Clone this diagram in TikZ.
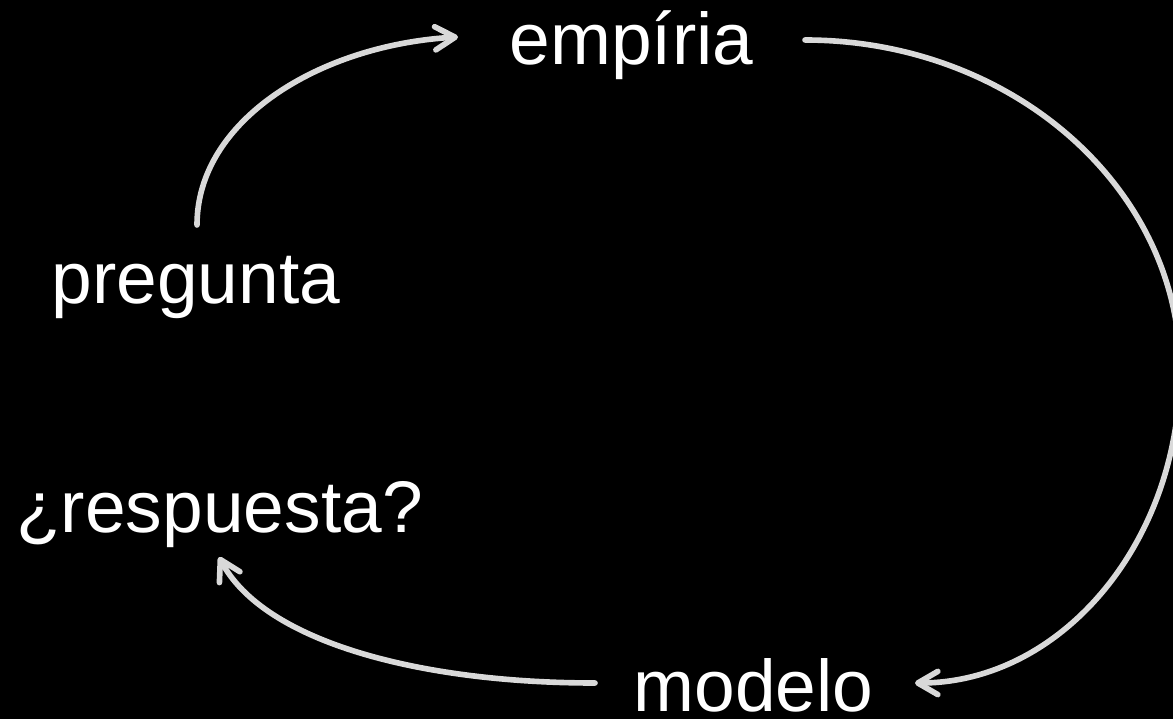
\documentclass[tikz,border=0pt]{standalone}
\usepackage{fontspec}
\setmainfont{Liberation Sans}
\usepackage{tikz}
\usetikzlibrary{arrows.meta,calc}

\definecolor{arrowgray}{RGB}{217,217,217}

\tikzset{
	word/.style={text=white, anchor=base, inner sep=0pt, font=\fontsize{52}{62}\selectfont},
	flow/.style={draw=arrowgray, line width=4pt, line cap=round, -{Straight Barb[length=0.5cm,width=0.58cm,round]}}
}

\begin{document}
\begin{tikzpicture}[x=0.025cm, y=0.025cm]
		\fill[black] (0,0) rectangle (1173,719);
		\useasboundingbox (0,0) rectangle (1173,719);
		\node[word] (empiria) at (631.5,654) {empíria};
		\node[word] (pregunta) at (196,415) {pregunta};
		\node[word] (respuesta) at (219.5,187) {¿respuesta?};
		\node[word] (modelo) at (753.5,8) {modelo};
		% pregunta -> empiria
		\draw[flow] ($(pregunta.base)+(1,79)$) .. controls +(0,105) and +(-138,-8) .. ($(empiria.base)+(-173.5,28)$);
		% empiria -> modelo
		\draw[flow] ($(empiria.base)+(173.5,25)$) .. controls +(207,0) and +(0,182) .. ($(empiria.base)+(548.5,-305)$)
			.. controls +(0,-173) and +(146,0) .. ($(modelo.base)+(161.5,28)$);
		% modelo -> respuesta
		\draw[flow] ($(modelo.base)+(-158.5,28)$) .. controls +(-175,0) and +(45,-85) .. ($(respuesta.base)+(-0.5,-25)$);
	\end{tikzpicture}
\end{document}
